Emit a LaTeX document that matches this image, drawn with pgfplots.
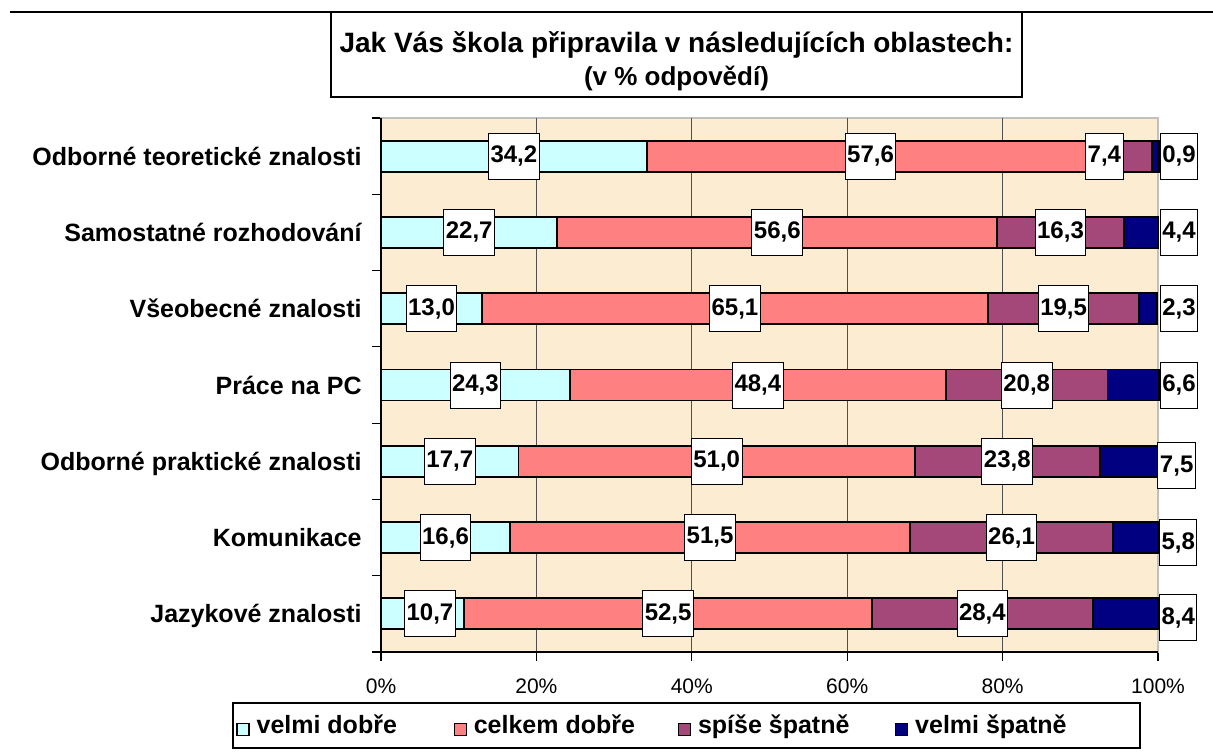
\documentclass[border=0pt]{standalone}
\usepackage{pgfplots}
\pgfplotsset{compat=1.18}
\usepackage{fontspec}
\setmainfont{Liberation Sans}
\definecolor{bgc}{RGB}{251,236,210}
\definecolor{cyanc}{RGB}{204,255,255}
\definecolor{salmonc}{RGB}{255,128,128}
\definecolor{purplec}{RGB}{163,72,120}
\definecolor{navyc}{RGB}{0,0,128}
\definecolor{lgray}{RGB}{192,192,192}
\definecolor{gridc}{RGB}{80,80,80}
\pgfplotstableread{
x y l
17.1 6 34,2
63.0 6 57,6
93.1 6 7,4
102.7 6 0,9
11.35 5 22,7
51.0 5 56,6
87.45 5 16,3
102.7 5 4,4
6.5 4 13,0
45.55 4 65,1
87.85 4 19,5
102.7 4 2,3
12.15 3 24,3
48.5 3 48,4
83.1 3 20,8
102.7 3 6,6
8.85 2 17,7
43.2 2 51,0
80.6 2 23,8
102.4 1.94 7,5
8.3 1 16,6
42.35 1 51,5
81.15 1 26,1
102.6 0.93 5,8
6.3 0 10,7
36.95 0 52,5
77.4 0 28,4
102.6 -0.05 8,4
}\labeltable
\begin{document}
\begin{tikzpicture}
\useasboundingbox (0,0) rectangle (606.5pt,-375.5pt);
\draw[line width=0.6pt] (5pt,-6pt) -- (606.5pt,-6pt);
\draw[line width=0.6pt, fill=white] (165.5pt,-6pt) rectangle (511pt,-48.5pt);
\node[font=\bfseries\fontsize{14}{16}\selectfont] at (338.25pt,-22.5pt) {Jak Vás škola připravila v následujících oblastech:};
\node[font=\bfseries\fontsize{13}{15}\selectfont] at (338.25pt,-39pt) {(v \% odpovědí)};
\draw[line width=0.6pt] (116.5pt,-351.5pt) rectangle (570pt,-374pt);

\begin{axis}[
  at={(190.5pt,-326pt)}, anchor=south west,
  scale only axis, width=388.5pt, height=267pt,
  xbar stacked, bar width=15.5pt,
  xmin=0, xmax=100, ymin=-0.5, ymax=6.5,
  clip=false,
  axis background/.style={fill=bgc},
  axis line style={draw=lgray, line width=0.8pt},
  tick align=outside,
  tick pos=left,
  major tick length=4.5pt,
  tick style={black, line width=0.6pt},
  xtick={0,20,40,60,80,100},
  xticklabels={0\%,20\%,40\%,60\%,80\%,100\%},
  xticklabel style={font=\fontsize{10.5}{12}\selectfont, anchor=base, inner sep=0pt, yshift=-16.25pt},
  ytick={-0.5,0.5,...,6.5},
  yticklabels={},
  extra y ticks={0,1,2,3,4,5,6},
  extra y tick labels={Jazykové znalosti,Komunikace,Odborné praktické znalosti,Práce na PC,Všeobecné znalosti,Samostatné rozhodování,Odborné teoretické znalosti},
  extra y tick style={major tick length=0pt, tick style={draw=none},
    yticklabel style={font=\bfseries\fontsize{12.5}{15}\selectfont, anchor=east, inner sep=0pt, text height=9pt, text depth=0pt, xshift=-9.5pt}},
  extra x ticks={20,40,60,80},
  extra x tick labels={},
  extra x tick style={grid=major, major tick length=0pt, tick style={draw=none}, grid style={gridc, line width=0.5pt}},
  legend columns=4,
  legend style={at={(axis description cs:-0.1866,-0.1376)}, anchor=west, draw=none, fill=none, inner sep=0pt,
    font=\bfseries\fontsize{12.5}{15}\selectfont, column sep=0pt, nodes={inner sep=0pt}},
  legend image code/.code={\draw[#1, line width=0.6pt] (0pt,-5pt) rectangle (6pt,1pt);},
]
\addplot[fill=cyanc, draw=black, line width=0.9pt] coordinates {(10.7,0) (16.6,1) (17.7,2) (24.3,3) (13.0,4) (22.7,5) (34.2,6)};
\addlegendentry{\makebox[102pt][l]{\hspace*{3.5pt}velmi dobře}}
\addplot[fill=salmonc, draw=black, line width=0.9pt] coordinates {(52.5,0) (51.5,1) (51.0,2) (48.4,3) (65.1,4) (56.6,5) (57.6,6)};
\addlegendentry{\makebox[105.5pt][l]{\hspace*{3.5pt}celkem dobře}}
\addplot[fill=purplec, draw=black, line width=0.9pt] coordinates {(28.4,0) (26.1,1) (23.8,2) (20.8,3) (19.5,4) (16.3,5) (7.4,6)};
\addlegendentry{\makebox[102pt][l]{\hspace*{3.5pt}spíše špatně}}
\addplot[fill=navyc, draw=black, line width=0.9pt] coordinates {(8.4,0) (5.8,1) (7.5,2) (6.6,3) (2.3,4) (4.4,5) (0.9,6)};
\addlegendentry{\hspace*{3.5pt}velmi špatně}
\draw[black, line width=0.8pt] (rel axis cs:0,1) -- (rel axis cs:0,0) -- (rel axis cs:1,0);
\end{axis}

\begin{axis}[
  at={(190.5pt,-326pt)}, anchor=south west,
  scale only axis, width=388.5pt, height=267pt,
  xmin=0, xmax=100, ymin=-0.5, ymax=6.5,
  hide axis, clip=false,
]
\addplot[only marks, mark=*, mark options={draw=none, fill=none},
  nodes near coords, point meta=explicit symbolic,
  every node near coord/.append style={anchor=center, fill=white, draw=black, line width=0.5pt,
    font=\bfseries\fontsize{12}{14}\selectfont, inner xsep=1pt, inner ysep=0pt, minimum height=23pt}]
  table[x=x, y=y, meta=l] {\labeltable};
\end{axis}
\end{tikzpicture}
\end{document}
